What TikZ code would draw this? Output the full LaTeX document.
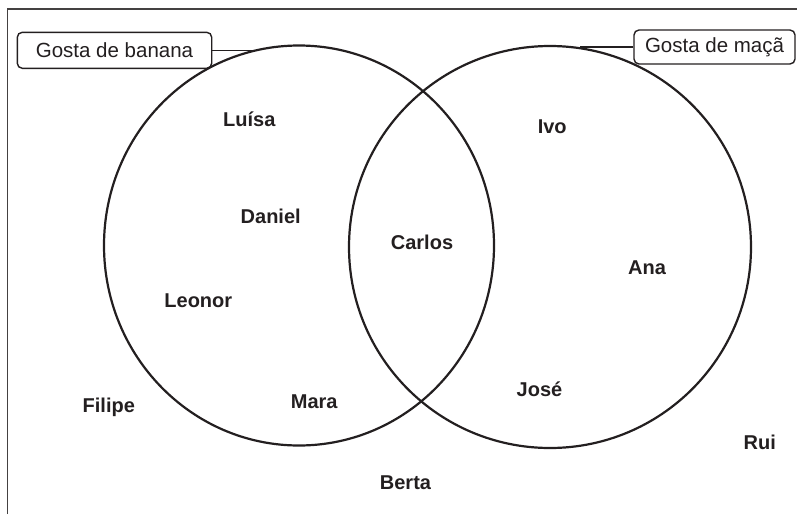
\documentclass[tikz,border=0pt]{standalone}
\usepackage{fontspec}
\setmainfont{Liberation Sans}
\usetikzlibrary{shapes.geometric}
\definecolor{ink}{HTML}{231F20}
\begin{document}
\begin{tikzpicture}[x=1pt,y=-1pt,
  person/.style={font=\fontsize{20}{24}\selectfont\bfseries, text=ink, inner sep=0pt, anchor=base},
  tagbox/.style={draw=ink, line width=1.4pt, rounded corners=5pt, font=\fontsize{20.5}{24}\selectfont, text=ink, inner sep=0pt, anchor=center},
  setshape/.style={draw=ink, line width=2.2pt, inner sep=0pt},
  framelines/.style={draw=ink!85, line width=1.5pt},
  tagline/.style={draw=ink, line width=1.4pt}]
\useasboundingbox (0,0) rectangle (797,514);
% frame
\draw[framelines] (7.5,514) -- (7.5,9) -- (797,9);
% sets
\node[setshape, ellipse, minimum width=390pt, minimum height=400pt] (banana) at (299,245.5) {};
\node[setshape, circle, minimum size=402pt] (maca) at (550,247) {};
% tags
\node[tagbox, minimum width=194.4pt, minimum height=36pt] (tagB) at (114.5,50.3) {Gosta de banana};
\node[tagbox, minimum width=161pt, minimum height=34pt] (tagM) at (714.5,47) {Gosta de maçã};
\coordinate (pB) at (255.5,50.3);
\coordinate (pM) at (580,47);
\draw[tagline] (tagB.east) -- (pB);
\draw[tagline] (tagM.west) -- (pM);
% names
\node[person] (luisa) at (249.3,126.5) {Luísa};
\node[person] (daniel) at (270.7,223.3) {Daniel};
\node[person] (carlos) at (422,249.3) {Carlos};
\node[person] (leonor) at (198.3,307.3) {Leonor};
\node[person] (mara) at (314.2,408) {Mara};
\node[person] (filipe) at (108.8,412.3) {Filipe};
\node[person] (ivo) at (552.2,133.3) {Ivo};
\node[person] (ana) at (647,274) {Ana};
\node[person] (jose) at (539.5,396.7) {José};
\node[person] (rui) at (759.8,449.3) {Rui};
\node[person] (berta) at (405.5,489) {Berta};
\end{tikzpicture}
\end{document}
